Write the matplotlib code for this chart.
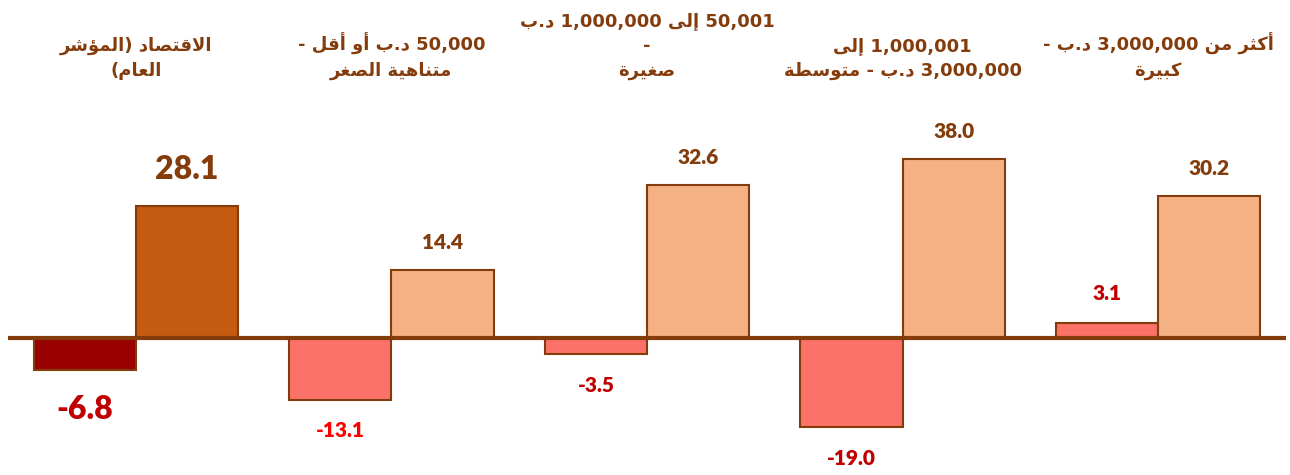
import re
import numpy as np
import matplotlib
matplotlib.use("Agg")
from matplotlib import pyplot as plt


categories = ["الاقتصاد (المؤشر\nالعام)",
              "50,000 د.ب أو أقل -\nمتناهية الصغر",
              "50,001 إلى 1,000,000 د.ب\n-\nصغيرة",
              "1,000,001 إلى\n3,000,000 د.ب - متوسطة",
              "أكثر من 3,000,000 د.ب -\nكبيرة"]
change_a = [-6.8, -13.1, -3.5, -19.0, 3.1]
change_b = [28.1, 14.4, 32.6, 38.0, 30.2]

fill_a = ['#990000', '#FA7268', '#FA7268', '#FA7268', '#FA7268']
fill_b = ['#C55A11', '#F4B183', '#F4B183', '#F4B183', '#F4B183']
text_a = ['#C00000', '#FF0000', '#C00000', '#C00000', '#C00000']
brown = '#843C0C'


# matplotlib has no arabic shaping, so do a small one by hand:
# presentation-form base code point, and whether the letter joins both sides
FORMS = {'ا': (0xFE8D, 0), 'أ': (0xFE83, 0), 'إ': (0xFE87, 0), 'ؤ': (0xFE85, 0),
         'ب': (0xFE8F, 1), 'ة': (0xFE93, 0), 'ت': (0xFE95, 1), 'ث': (0xFE99, 1),
         'د': (0xFEA9, 0), 'ر': (0xFEAD, 0), 'س': (0xFEB1, 1), 'ش': (0xFEB5, 1),
         'ص': (0xFEB9, 1), 'ط': (0xFEC1, 1), 'ع': (0xFEC9, 1), 'غ': (0xFECD, 1),
         'ق': (0xFED5, 1), 'ك': (0xFED9, 1), 'ل': (0xFEDD, 1), 'م': (0xFEE1, 1),
         'ن': (0xFEE5, 1), 'ه': (0xFEE9, 1), 'و': (0xFEED, 0), 'ى': (0xFEEF, 0),
         'ي': (0xFEF1, 1)}
LAM_ALEF = {'ا': 0xFEFB, 'أ': 0xFEF7, 'إ': 0xFEF9}


def shape(s):
    units = []
    i = 0
    while i < len(s):
        if s[i] == 'ل' and i + 1 < len(s) and s[i + 1] in LAM_ALEF:
            units.append((None, LAM_ALEF[s[i + 1]], 0))
            i += 2
            continue
        base, dual = FORMS.get(s[i], (None, 0))
        units.append((s[i], base, dual))
        i += 1
    out = []
    for k, (ch, base, dual) in enumerate(units):
        if base is None:
            out.append(ch)
            continue
        prev = units[k - 1] if k > 0 else None
        nxt = units[k + 1] if k + 1 < len(units) else None
        j_prev = prev is not None and prev[1] is not None and prev[2] == 1
        j_next = dual == 1 and nxt is not None and nxt[1] is not None
        off = 3 if (j_prev and j_next) else 1 if j_prev else 2 if j_next else 0
        out.append(chr(base + off))
    return ''.join(out)


def rtl(text):
    lines = []
    for line in text.split('\n'):
        tokens = re.findall(r'\d[\d,.]*\d|\d|.', shape(line))
        mirror = {'(': ')', ')': '('}
        lines.append(''.join(mirror.get(t, t) for t in reversed(tokens)))
    return '\n'.join(lines)


fig = plt.figure(figsize=(12.9, 4.75), dpi=100)
ax = fig.add_axes([8 / 1290, 0, 1278 / 1290, 1])
ax.set_xlim(-0.5, 4.5)
ax.set_ylim(-(475 - 338) / 4.7, 338 / 4.7)
ax.axis('off')

x = np.arange(len(categories))
bars_a = ax.bar(x - 0.2, change_a, width=0.4, color=fill_a, edgecolor=brown, linewidth=1.5, zorder=2)
bars_b = ax.bar(x + 0.2, change_b, width=0.4, color=fill_b, edgecolor=brown, linewidth=1.5, zorder=2)
ax.axhline(0, color=brown, lw=3, zorder=3)

num_font = 'Lato'
for i, b in enumerate(bars_a):
    v = change_a[i]
    big = i == 0
    off = (28.5 if big else 22.5) if v < 0 else 21.5
    ax.annotate(f'{v:.1f}', (b.get_x() + b.get_width() / 2, v), xytext=(0, off if v > 0 else -off),
                textcoords='offset points', ha='center', va='center',
                fontsize=23 if big else 15, fontweight='heavy', color=text_a[i], family=num_font)
for i, b in enumerate(bars_b):
    v = change_b[i]
    big = i == 0
    ax.annotate(f'{v:.1f}', (b.get_x() + b.get_width() / 2, v), xytext=(0, 26 if big else 20),
                textcoords='offset points', ha='center', va='center',
                fontsize=23 if big else 15, fontweight='heavy', color=brown, family=num_font)

for i, c in enumerate(categories):
    ax.text(i, 1 - 80 / 475, rtl(c), transform=ax.get_xaxis_transform(), ha='center', va='bottom',
            multialignment='center', linespacing=1.5, fontsize=13, fontweight='bold',
            color=brown, family='DejaVu Sans')

fig.savefig('out.png', dpi=100)
